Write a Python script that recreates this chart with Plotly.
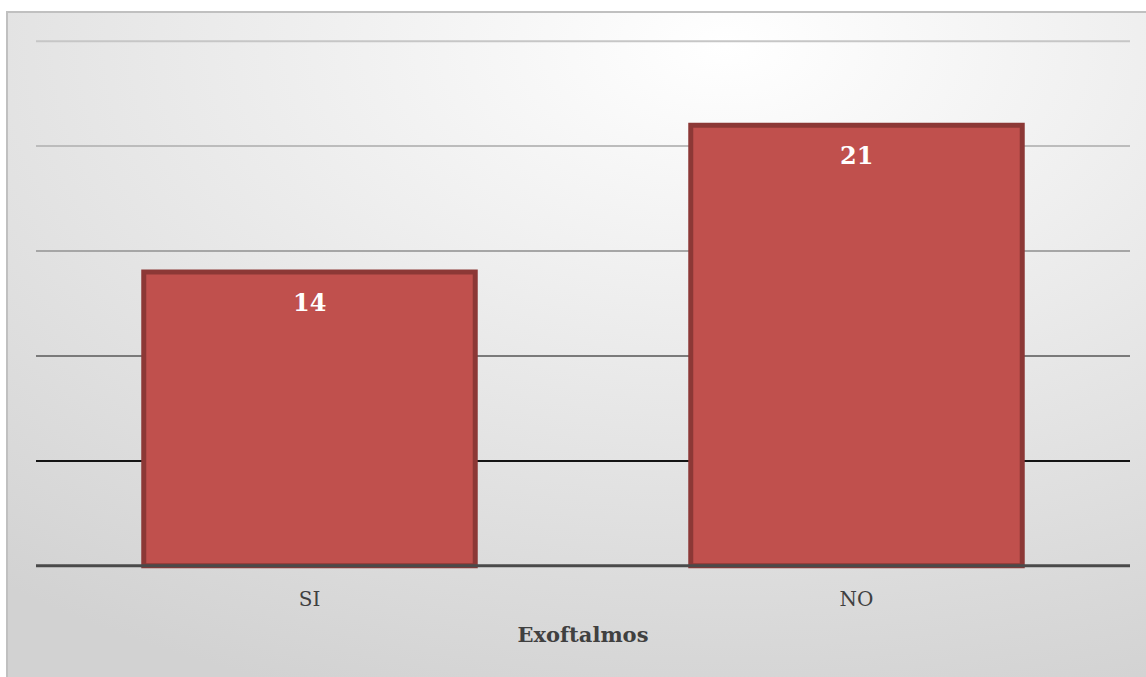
import base64
import plotly.graph_objects as go

# ---- data ----
categories = ["SI", "NO"]
values = [14, 21]
grid_ticks = [0, 5, 10, 15, 20, 25]
grid_colors = ["#4a4a4a", "#141414", "#7a7a7a", "#a6a6a6", "#bcbcbc", "#c6c6c6"]
axis_title = "Exoftalmos"

W, H = 1146, 677
L, R, T, B = 36, 16, 37, 107
PW, PH = W - L - R, H - T - B

FONT = "DejaVu Serif"

svg = f'''<svg xmlns="http://www.w3.org/2000/svg" width="{W}" height="{H}" viewBox="0 0 {W} {H}" preserveAspectRatio="none">
<defs>
<radialGradient id="g" cx="0.62" cy="0.05" r="1.0" gradientUnits="objectBoundingBox">
<stop offset="0" stop-color="#ffffff"/>
<stop offset="1" stop-color="#d2d2d2"/>
</radialGradient>
</defs>
<rect x="0" y="0" width="{W}" height="{H}" fill="#ffffff"/>
<rect x="7" y="12" width="1160" height="690" fill="url(#g)" stroke="#c0c0c0" stroke-width="2"/>
</svg>'''
bg_src = "data:image/svg+xml;base64," + base64.b64encode(svg.encode()).decode()

fig = go.Figure()
fig.add_trace(go.Bar(
    x=categories, y=values, width=0.606,
    marker=dict(color="#C0504D", line=dict(color="#8C3836", width=5)),
    hoverinfo="skip",
))

# gridlines
for tv, col in zip(grid_ticks, grid_colors):
    fig.add_shape(type="line", xref="paper", yref="y", x0=0, x1=1, y0=tv, y1=tv,
                  line=dict(color=col, width=3 if tv == 0 else 2),
                  layer="above" if tv == 0 else "below")

# data labels
for c, v in zip(categories, values):
    fig.add_annotation(x=c, y=v, text=f"<b>{v}</b>", showarrow=False,
                       yanchor="top", yshift=-14,
                       font=dict(family=FONT, size=24, color="#ffffff"))

fig.add_layout_image(dict(
    source=bg_src, xref="paper", yref="paper",
    x=-L / PW, y=1 + T / PH, sizex=W / PW, sizey=H / PH,
    xanchor="left", yanchor="top", sizing="stretch", layer="below",
))

fig.update_layout(
    width=W, height=H,
    margin=dict(l=L, r=R, t=T, b=B, pad=0),
    paper_bgcolor="rgba(0,0,0,0)", plot_bgcolor="rgba(0,0,0,0)",
    showlegend=False,
    font=dict(family=FONT, color="#404040"),
    xaxis=dict(
        range=[-0.5, 1.5], showgrid=False, zeroline=False, showline=False,
        ticks="outside", ticklen=11, tickcolor="rgba(0,0,0,0)",
        tickfont=dict(family=FONT, size=20, color="#404040"),
        title=dict(text=f"<b>{axis_title}</b>", standoff=17,
                   font=dict(family=FONT, size=21, color="#404040")),
    ),
    yaxis=dict(range=[-0.2, 25.2], showgrid=False, zeroline=False,
               showline=False, showticklabels=False, ticks=""),
)

fig.write_html("out.html")
